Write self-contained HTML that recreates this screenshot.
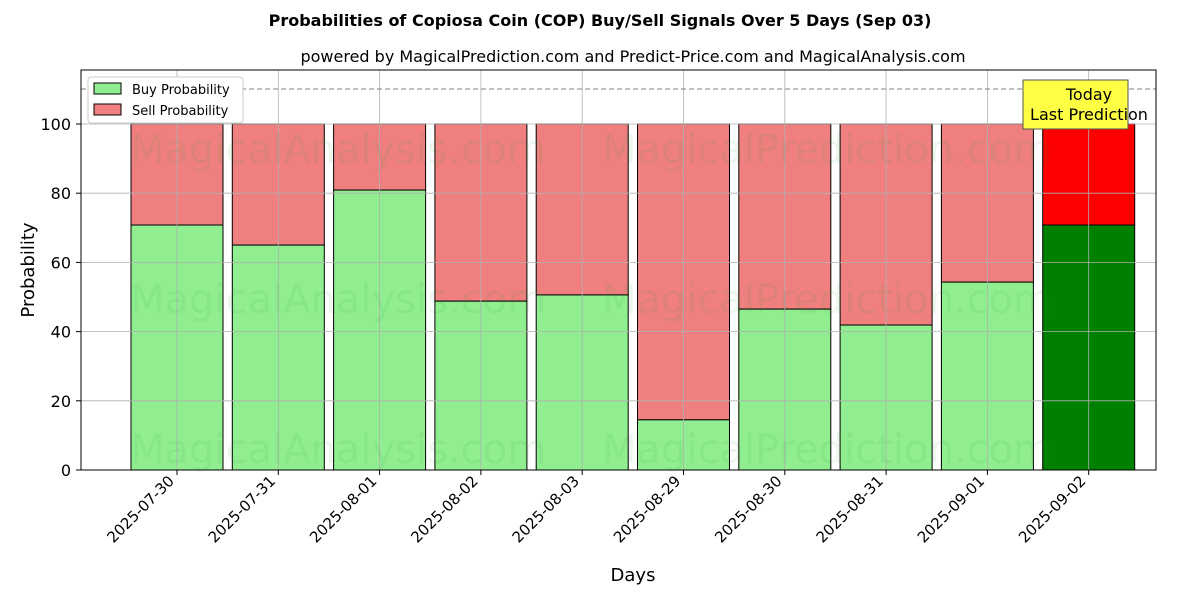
<!DOCTYPE html>
<html><head><meta charset="utf-8"><style>
body{margin:0;background:#fff;font-family:"Liberation Sans","DejaVu Sans",sans-serif}
svg text{font-family:"DejaVu Sans","Liberation Sans",sans-serif}
</style></head><body>
<svg id="chart" width="1200" height="600" xmlns="http://www.w3.org/2000/svg">
<text x="600" y="26" text-anchor="middle" font-size="16" font-weight="bold">Probabilities of Copiosa Coin (COP) Buy/Sell Signals Over 5 Days (Sep 03)</text>
<text x="633" y="62" text-anchor="middle" font-size="16">powered by MagicalPrediction.com and Predict-Price.com and MagicalAnalysis.com</text>
<g id="bars"></g>
<g id="grid"></g>
<g id="watermarks" font-size="40" fill="#2a9a2a" fill-opacity="0.09">
<text x="130" y="163">MagicalAnalysis.com</text>
<text x="602" y="163">MagicalPrediction.com</text>
<text x="130" y="313">MagicalAnalysis.com</text>
<text x="602" y="313">MagicalPrediction.com</text>
<text x="130" y="463">MagicalAnalysis.com</text>
<text x="602" y="463">MagicalPrediction.com</text>
</g>
<line x1="81" x2="1156" y1="89" y2="89" stroke="#808080" stroke-dasharray="5,3"/>
<rect x="81" y="70" width="1075" height="400" fill="none" stroke="#000"/>
<g id="axes"></g>
<text x="34" y="270" text-anchor="middle" font-size="18" transform="rotate(-90 34 270)">Probability</text>
<text x="633" y="581" text-anchor="middle" font-size="18">Days</text>
<g>
<rect x="88" y="77" width="155" height="46" fill="#fff" stroke="#ccc" rx="3"/>
<rect x="94" y="83" width="27" height="11" fill="#90ee90" stroke="#000"/>
<text x="132" y="94" font-size="13">Buy Probability</text>
<rect x="94" y="104" width="27" height="11" fill="#f08080" stroke="#000"/>
<text x="132" y="115" font-size="13">Sell Probability</text>
</g>
<g>
<rect x="1023" y="80" width="105" height="49" fill="#ffff44" stroke="#555"/>
<text x="1089" y="100" text-anchor="middle" font-size="16">Today</text>
<text x="1089" y="120" text-anchor="middle" font-size="16">Last Prediction</text>
</g>
</svg>
<script>
const categories=["2025-07-30","2025-07-31","2025-08-01","2025-08-02","2025-08-03","2025-08-29","2025-08-30","2025-08-31","2025-09-01","2025-09-02"];
const buyValues=[70.8,65.0,80.9,48.8,50.6,14.5,46.5,41.9,54.3,70.8];
const yTicks=[0,20,40,60,80,100];
const NS="http://www.w3.org/2000/svg";
const y=v=>470-v*3.46;
const x=i=>177+101.3*i;
const bw=92;
function mk(t,a,p){const e=document.createElementNS(NS,t);for(const k in a)e.setAttribute(k,a[k]);p.appendChild(e);return e;}
const grid=document.getElementById('grid'),bars=document.getElementById('bars'),axes=document.getElementById('axes');
yTicks.forEach(v=>{
 const g=mk('line',{x1:81,x2:1156,y1:y(v),y2:y(v),stroke:'#b0b0b0','stroke-width':0.8},grid);
 
 
 mk('line',{x1:76,x2:81,y1:y(v),y2:y(v),stroke:'#000'},axes);
 const t=mk('text',{x:71,y:y(v)+6,'text-anchor':'end','font-size':16},axes);t.textContent=v;
 
 
});
categories.forEach((c,i)=>{
 const g=mk('line',{x1:x(i),x2:x(i),y1:70,y2:470,stroke:'#b0b0b0','stroke-width':0.8},grid);
 
 
 const last=i===categories.length-1;
 const b=buyValues[i];
 const s=mk('rect',{x:x(i)-bw/2,y:y(100),width:bw,height:y(b)-y(100),fill:last?'#ff0000':'#f08080',stroke:'#000'},bars);
 
 
 const r=mk('rect',{x:x(i)-bw/2,y:y(b),width:bw,height:470-y(b),fill:last?'#008000':'#90ee90',stroke:'#000'},bars);
 
 
 mk('line',{x1:x(i),x2:x(i),y1:470,y2:475,stroke:'#000'},axes);
 const t=mk('text',{x:x(i)-2,y:482,'text-anchor':'end','font-size':15,transform:`rotate(-45 ${x(i)-2} 482)`},axes);t.textContent=c;
 
 
});
</script>
</body></html>
